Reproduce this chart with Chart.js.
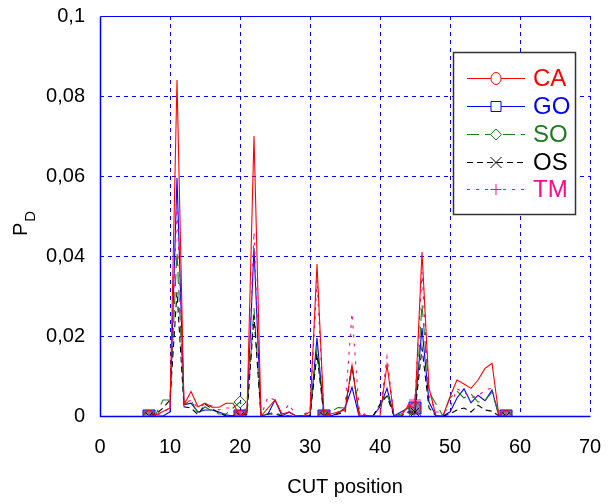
<!DOCTYPE html>
<html><head><meta charset="utf-8">
<script src="https://cdn.jsdelivr.net/npm/chart.js@4/dist/chart.umd.min.js"></script>
<style>html,body{margin:0;padding:0;background:#fff}#wrap{width:612px;height:504px}</style>
</head><body><div id="wrap"><canvas id="c" width="612" height="504"></canvas></div>
<script>
const positions = [7,8,9,10,11,12,13,14,15,16,17,18,19,20,21,22,23,24,25,26,27,28,29,30,31,32,33,34,35,36,37,38,39,40,41,42,43,44,45,46,47,48,49,50,51,52,53,54,55,56,57,58];
const seriesNames = ['CA','GO','SO','OS','TM'];
const CA = [0,0.0003,0.0011,0.002,0.084,0.0028,0.0061,0.0023,0.0032,0.0022,0.0022,0.0032,0.0032,0,0.001,0.070,0,0.002,0.004,0.0005,0.001,0,0,0.001,0.038,0,0.0005,0.001,0.0015,0.0127,0.0003,0,0,0,0.0128,0,0,0.0025,0.002,0.041,0.007,0,0,0.0048,0.009,0.008,0.0069,0.009,0.0119,0.0132,0,0];
const GO = [0,0,0,0.001,0.0595,0.0028,0.0032,0.001,0.0015,0.0015,0.001,0.0003,0,0,0.001,0.042,0,0.0005,0.004,0,0.001,0,0,0,0.0195,0,0,0.0007,0.002,0.0072,0,0,0,0.0023,0.0069,0,0.001,0.002,0.002,0.022,0.0035,0,0,0.001,0.0045,0.0068,0.0033,0.0052,0.0038,0.0065,0,0];
const SO = [0,0.0005,0.004,0.004,0.041,0.0028,0.004,0.0006,0.0023,0.0012,0.0005,0.0005,0.002,0.0035,0.001,0.027,0,0.0005,0.001,0,0,0,0,0,0.0168,0,0.0011,0.0021,0.002,0.0123,0.0007,0,0,0.0027,0.0057,0,0.0005,0.002,0,0.028,0.006,0.003,0,0.0045,0.0062,0.0045,0.0055,0.0035,0.0038,0.006,0,0];
const OS = [0,0.0005,0.002,0.004,0.031,0.0023,0.002,0.0003,0.003,0.0018,0.0008,0,0,0,0.0005,0.025,0,0.0005,0.0005,0,0,0,0,0,0.0155,0,0,0.0005,0.001,0.0127,0.0008,0,0,0.003,0.005,0,0,0.001,0.001,0.017,0.002,0,0,0.0005,0.0015,0.002,0.001,0.0027,0.0015,0.0012,0,0];
const TM = [0,0,0.001,0.002,0.053,0.003,0.004,0.002,0.003,0.0025,0.0015,0.002,0.002,0,0.001,0.046,0,0.0048,0.004,0.0005,0.003,0,0.0005,0.001,0.034,0,0,0.001,0.002,0.0257,0.002,0,0,0.001,0.0148,0,0,0.0028,0.004,0.036,0.005,0.001,0.001,0.002,0.0068,0.006,0.0045,0.005,0.0065,0.007,0,0];
const markerPositions = [7,20,32,45,58];
const xTickValues = [0,10,20,30,40,50,60,70];
const yTickValues = [0,0.02,0.04,0.06,0.08,0.1];

const FONT = '"Liberation Sans", Arial, sans-serif';
const styles = {
  CA:{color:'#ff0000', dash:[], point:'circle', fill:'rgba(0,0,0,0)', order:1, r:5.5},
  GO:{color:'#0000ff', dash:[], point:'rect', fill:'#8c80d0', order:5, r:8.5},
  SO:{color:'#1f7a1f', dash:[12,6], point:'rectRot', fill:'rgba(0,0,0,0)', order:4, r:6},
  OS:{color:'#000000', dash:[6,4], point:'crossRot', fill:'rgba(0,0,0,0)', order:3, r:6},
  TM:{color:'#ff0a8c', dash:[3,6], point:'cross', fill:'rgba(0,0,0,0)', order:2, r:6}
};
const seriesData = {CA, GO, SO, OS, TM};

const datasets = seriesNames.map(name => {
  const s = styles[name];
  return {
    label: name,
    data: positions.map((x,i) => ({x, y: seriesData[name][i]})),
    borderColor: s.color,
    borderWidth: 1.1,
    borderDash: s.dash,
    tension: 0,
    fill: false,
    order: s.order,
    pointStyle: s.point,
    pointBackgroundColor: s.fill,
    pointBorderColor: s.color,
    pointBorderWidth: 1,
    pointRadius: ctx => markerPositions.includes(positions[ctx.dataIndex]) ? s.r : 0,
    pointHoverRadius: 0
  };
});

const gridPlugin = {
  id: 'grid',
  beforeDatasetsDraw(chart) {
    const {ctx, chartArea:a, scales:{x, y}} = chart;
    ctx.save();
    ctx.strokeStyle = '#0000ff';
    ctx.lineWidth = 1;
    ctx.setLineDash([4,4]);
    xTickValues.slice(1).forEach(v => {
      const px = Math.round(x.getPixelForValue(v)) + 0.5;
      ctx.beginPath(); ctx.moveTo(px, a.top); ctx.lineTo(px, a.bottom); ctx.stroke();
    });
    yTickValues.slice(1, -1).forEach(v => {
      const py = Math.round(y.getPixelForValue(v)) + 0.5;
      ctx.beginPath(); ctx.moveTo(a.left, py); ctx.lineTo(a.right, py); ctx.stroke();
    });
    ctx.setLineDash([]);
    ctx.lineWidth = 1.5;
    const l = Math.round(a.left)+0.5, b = Math.round(a.bottom)+0.5, t = Math.round(a.top)+0.5, r = Math.round(a.right)+0.5;
    ctx.beginPath(); ctx.moveTo(l, t); ctx.lineTo(l, b); ctx.lineTo(r, b); ctx.stroke();
    ctx.lineWidth = 1;
    ctx.beginPath(); ctx.moveTo(l, t); ctx.lineTo(r, t); ctx.stroke();
    ctx.restore();
  }
};

function drawMarker(ctx, kind, cx, cy, color) {
  ctx.save();
  ctx.setLineDash([]);
  ctx.strokeStyle = color; ctx.lineWidth = 1;
  ctx.fillStyle = '#ffffff';
  const r = 5.5;
  ctx.beginPath();
  if (kind === 'circle') { ctx.ellipse(cx, cy, 5, 6, 0, 0, Math.PI*2); ctx.fill(); ctx.stroke(); }
  else if (kind === 'rect') { ctx.rect(cx-5, cy-5, 10, 10); ctx.fill(); ctx.stroke(); }
  else if (kind === 'rectRot') { ctx.moveTo(cx, cy-r); ctx.lineTo(cx+r, cy); ctx.lineTo(cx, cy+r); ctx.lineTo(cx-r, cy); ctx.closePath(); ctx.fill(); ctx.stroke(); }
  else if (kind === 'crossRot') { ctx.moveTo(cx-r, cy-r); ctx.lineTo(cx+r, cy+r); ctx.moveTo(cx+r, cy-r); ctx.lineTo(cx-r, cy+r); ctx.stroke(); }
  else if (kind === 'cross') { ctx.moveTo(cx-r, cy); ctx.lineTo(cx+r, cy); ctx.moveTo(cx, cy-r); ctx.lineTo(cx, cy+r); ctx.stroke(); }
  ctx.restore();
}

const legendPlugin = {
  id: 'boxLegend',
  afterDraw(chart) {
    const ctx = chart.ctx;
    ctx.save();
    ctx.fillStyle = '#ffffff';
    ctx.fillRect(453, 52, 122, 162);
    ctx.strokeStyle = '#333333';
    ctx.lineWidth = 1.5;
    ctx.strokeRect(453.5, 52.5, 122, 162);
    const rows = [78, 106, 134, 162, 189];
    seriesNames.forEach((name, i) => {
      const s = styles[name];
      const yy = rows[i] + 0.5;
      ctx.strokeStyle = s.color;
      ctx.lineWidth = 1;
      ctx.setLineDash(s.dash);
      ctx.beginPath(); ctx.moveTo(467, yy); ctx.lineTo(525, yy); ctx.stroke();
      drawMarker(ctx, s.point, 496, yy, s.color);
      ctx.fillStyle = s.color;
      ctx.font = '24px ' + FONT;
      ctx.textBaseline = 'middle';
      ctx.textAlign = 'left';
      ctx.fillText(name, 533, rows[i] + 1);
    });
    // y axis title P_D
    ctx.fillStyle = '#000000';
    ctx.translate(27, 236);
    ctx.rotate(-Math.PI/2);
    ctx.font = '20px ' + FONT;
    ctx.textBaseline = 'alphabetic';
    ctx.fillText('P', 0, 0);
    const w = ctx.measureText('P').width;
    ctx.font = '15px ' + FONT;
    ctx.fillText('D', w + 1, 8);
    ctx.restore();
  }
};

new Chart(document.getElementById('c'), {
  type: 'line',
  data: { datasets },
  options: {
    responsive: false,
    animation: false,
    devicePixelRatio: 1,
    layout: { padding: { top: 16, right: 22, left: 0, bottom: 0 } },
    plugins: { legend: { display: false }, tooltip: { enabled: false } },
    scales: {
      x: {
        type: 'linear', min: 0, max: 70,
        afterBuildTicks: s => { s.ticks = xTickValues.map(v => ({value: v})); },
        afterFit: s => { s.height = 88; },
        grid: { display: false, drawTicks: true, tickLength: 19 },
        border: { display: false },
        ticks: { color: '#000', font: { size: 20, family: FONT }, padding: 0, maxRotation: 0 },
        title: { display: true, text: 'CUT position', color: '#000', font: { size: 20, family: FONT }, padding: { top: 4, bottom: 5 } }
      },
      y: {
        type: 'linear', min: 0, max: 0.1,
        afterBuildTicks: s => { s.ticks = yTickValues.map(v => ({value: v})); },
        afterFit: s => { s.width = 100; },
        grid: { display: false, drawTicks: true, tickLength: 15 },
        border: { display: false },
        ticks: { color: '#000', font: { size: 20, family: FONT }, padding: 0,
          callback: v => String(Math.round(v * 100) / 100).replace('.', ',') }
      }
    }
  },
  plugins: [gridPlugin, legendPlugin]
});
</script></body></html>
